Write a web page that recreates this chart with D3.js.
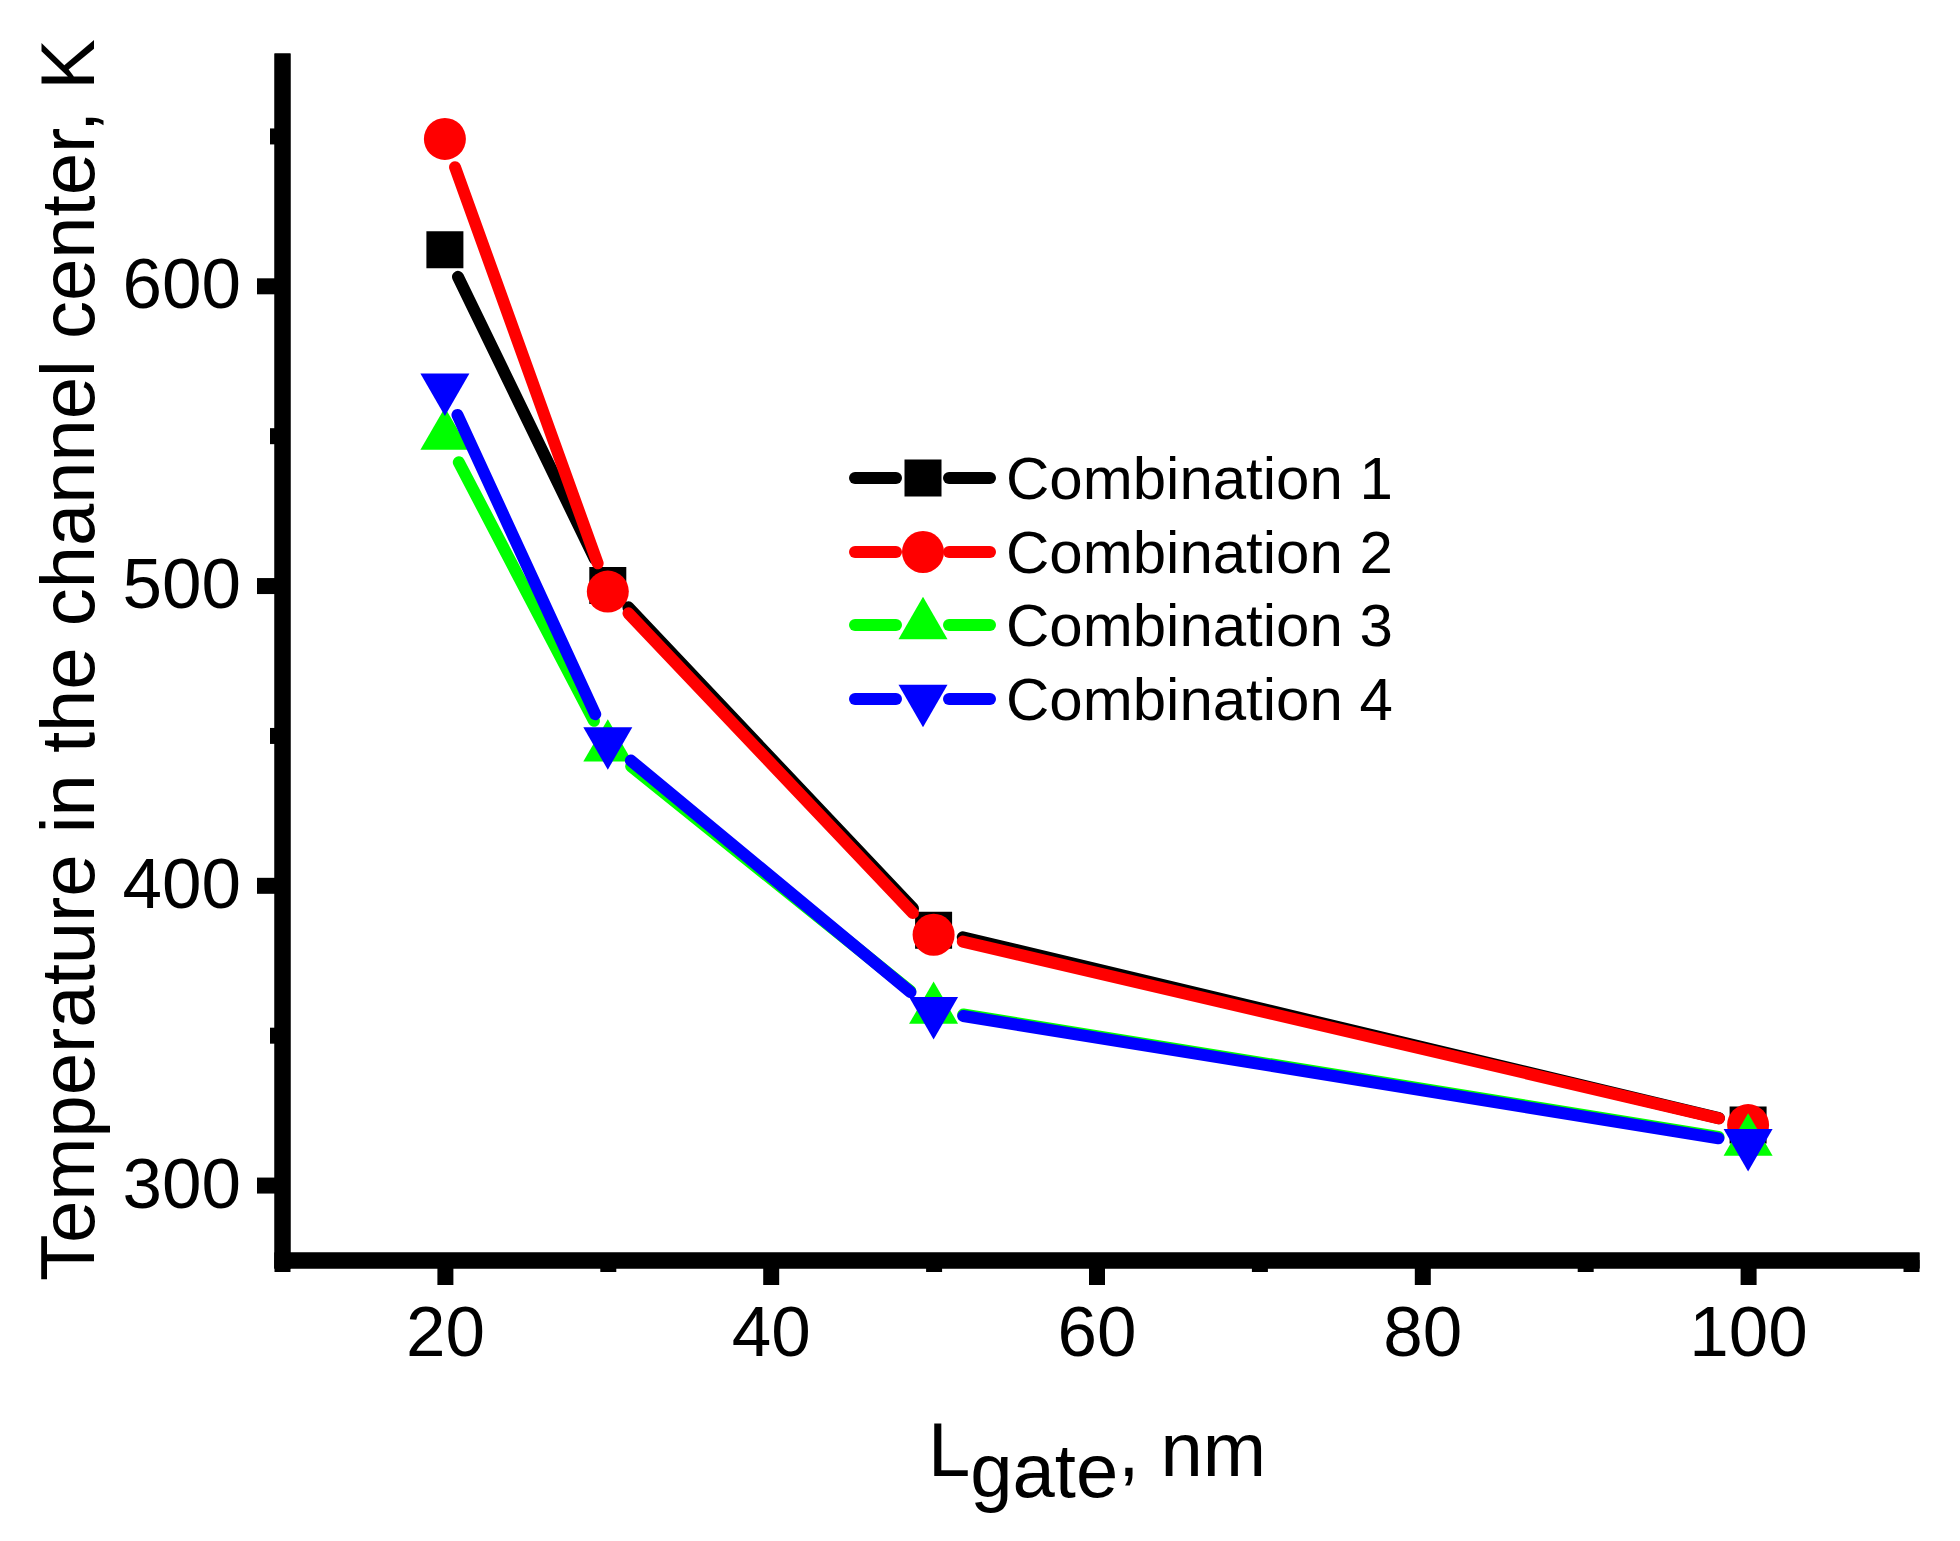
<!DOCTYPE html>
<html>
<head>
<meta charset="utf-8">
<script src="https://cdn.jsdelivr.net/npm/d3@7"></script>
<style>
  body { margin: 0; background: #fff; }
  svg { display: block; font-family: "Liberation Sans", Arial, sans-serif; }
</style>
</head>
<body>
<div id="chart"></div>
<script>
// gate length, nm
const lgate = [20, 30, 50, 100];

// temperature in the channel center, K
const comb1 = [612, 500, 385, 320];
const comb2 = [649, 498, 383.5, 320];
const comb3 = [550, 446, 358.5, 314.5];
const comb4 = [566, 448, 358, 314];

const seriesNames = ["Combination 1", "Combination 2", "Combination 3", "Combination 4"];
const seriesColors = ["#000000", "#ff0000", "#00ff00", "#0000ff"];

const xMajor = [20, 40, 60, 80, 100];
const xMinor = [10, 30, 50, 70, 90, 110];
const yMajor = [300, 400, 500, 600];
const yMinor = [350, 450, 550, 650];

const width = 1960;
const height = 1541;

const x = d3.scaleLinear().domain([10, 110]).range([282, 1911]);
const y = d3.scaleLinear().domain([275, 675]).range([1260, 61]);

const svg = d3.select("#chart")
  .append("svg")
  .attr("width", width)
  .attr("height", height);

const series = [comb1, comb2, comb3, comb4].map((vals, i) => ({
  name: seriesNames[i],
  color: seriesColors[i],
  shape: i,
  points: vals.map((v, j) => ({ x: lgate[j], y: v }))
}));

// marker shapes, Origin style
function markerPath(shape) {
  if (shape === 0) return d3.symbol(d3.symbolSquare, 37 * 37)();
  if (shape === 1) return d3.symbol(d3.symbolCircle, Math.PI * 21 * 21)();
  return d3.symbol(d3.symbolTriangle, Math.sqrt(3) / 4 * 49 * 49)();
}

function drawMarker(sel, s, px, py) {
  sel.append("path")
    .attr("d", markerPath(s.shape))
    .attr("fill", s.color)
    .attr("transform", `translate(${px},${py})` + (s.shape === 3 ? " rotate(180)" : ""));
}

// axes
function styleAxis(g) {
  g.select(".domain")
    .attr("stroke", "#000")
    .attr("stroke-width", 16)
    .attr("stroke-linecap", "square");
  g.selectAll(".tick line")
    .attr("stroke", "#000")
    .attr("stroke-width", 16);
  g.selectAll(".tick text")
    .attr("fill", "#000")
    .attr("font-size", 71)
    .attr("font-family", "Liberation Sans, Arial, sans-serif");
}

svg.append("g")
  .attr("transform", "translate(0,1260)")
  .call(d3.axisBottom(x).tickValues(xMinor).tickSize(12).tickSizeOuter(0).tickFormat(""))
  .call(styleAxis);

svg.append("g")
  .attr("transform", "translate(282,0)")
  .call(d3.axisLeft(y).tickValues(yMinor).tickSize(12).tickSizeOuter(0).tickFormat(""))
  .call(styleAxis);

const xAxis = svg.append("g")
  .attr("transform", "translate(0,1260)")
  .call(d3.axisBottom(x).tickValues(xMajor).tickSize(25).tickPadding(21).tickSizeOuter(0))
  .call(styleAxis);

const yAxis = svg.append("g")
  .attr("transform", "translate(282,0)")
  .call(d3.axisLeft(y).tickValues(yMajor).tickSize(25).tickPadding(16).tickSizeOuter(0))
  .call(styleAxis);

yAxis.selectAll(".tick text").attr("dy", "0.31em");

// series: line segments with a gap at each marker, then markers
const gap = 30;

series.forEach(s => {
  const g = svg.append("g");
  const pts = s.points.map(p => [x(p.x), y(p.y)]);

  for (let i = 0; i < pts.length - 1; i++) {
    const [x1, y1] = pts[i];
    const [x2, y2] = pts[i + 1];
    const len = Math.hypot(x2 - x1, y2 - y1);
    const ux = (x2 - x1) / len, uy = (y2 - y1) / len;
    g.append("line")
      .attr("x1", x1 + ux * gap)
      .attr("y1", y1 + uy * gap)
      .attr("x2", x2 - ux * gap)
      .attr("y2", y2 - uy * gap)
      .attr("stroke", s.color)
      .attr("stroke-width", 12)
      .attr("stroke-linecap", "round");
  }

  pts.forEach(p => drawMarker(g, s, p[0], p[1]));
});

// legend
const legend = svg.append("g");
const legendRows = [478, 552, 625, 699];

series.forEach((s, i) => {
  const ly = legendRows[i];
  const row = legend.append("g");

  [[855, 896], [949, 990]].forEach(seg => {
    row.append("line")
      .attr("x1", seg[0]).attr("x2", seg[1])
      .attr("y1", ly).attr("y2", ly)
      .attr("stroke", s.color)
      .attr("stroke-width", 12)
      .attr("stroke-linecap", "round");
  });

  drawMarker(row, s, 923, ly);

  row.append("text")
    .attr("x", 1006)
    .attr("y", ly + 21)
    .attr("font-size", 60)
    .attr("fill", "#000")
    .text(s.name);
});

// axis titles
const xTitle = svg.append("text")
  .attr("x", 1097)
  .attr("y", 1476)
  .attr("text-anchor", "middle")
  .attr("font-size", 76)
  .attr("fill", "#000");

xTitle.append("tspan").text("L");
xTitle.append("tspan").attr("dy", 21).text("gate");
xTitle.append("tspan").attr("dy", -21).text(", nm");

svg.append("text")
  .attr("transform", "translate(94,660) rotate(-90)")
  .attr("text-anchor", "middle")
  .attr("font-size", 76)
  .attr("fill", "#000")
  .text("Temperature in the channel center, K");
</script>
</body>
</html>
